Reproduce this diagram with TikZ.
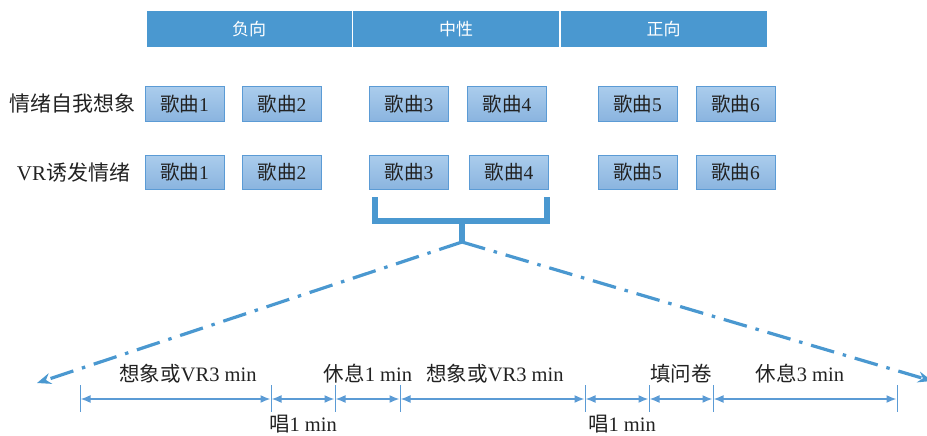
\documentclass[tikz,border=0pt]{standalone}
\usepackage{fontspec}
\setmainfont{Liberation Serif}
\newfontfamily\cjk{Noto Sans CJK SC}
\usetikzlibrary{arrows.meta}
\definecolor{hdr}{HTML}{4A98D0}
\definecolor{bxline}{HTML}{5B9BD5}
\definecolor{bxtop}{HTML}{AACCEC}
\definecolor{bxbot}{HTML}{8AB4DF}
\definecolor{txt}{HTML}{222222}
\tikzset{
  hdrbox/.style={rectangle, fill=hdr, draw=white, line width=1pt, minimum height=37pt, inner sep=0pt, text=white, font=\cjk\fontsize{17}{17}\selectfont},
  songbox/.style={rectangle, draw=bxline, line width=1pt, top color=bxtop, bottom color=bxbot, minimum width=79pt, minimum height=34pt, inner sep=0pt, text=txt, font=\fontsize{19.5}{19.5}\selectfont},
  rowlabel/.style={text=txt, font=\fontsize{21}{21}\selectfont, inner sep=0pt},
  brace/.style={draw=hdr, line width=6.5pt},
  dashdot/.style={draw=hdr, line width=3.2pt, dash pattern=on 24pt off 9pt on 3.5pt off 9pt, -{Stealth[length=14pt,width=11pt]}},
  tick/.style={draw=bxline, line width=1pt},
  span/.style={draw=bxline, line width=1.6pt, {Latex[length=10pt,width=8pt]}-{Latex[length=10pt,width=8pt]}, shorten <=0.5pt, shorten >=0.5pt},
  tlabel/.style={text=txt, font=\fontsize{20.5}{20.5}\selectfont, inner sep=0pt}
}
\begin{document}
\begin{tikzpicture}[x=1pt,y=-1pt]
\useasboundingbox (0,0) rectangle (927,436);
% header
\node[hdrbox, minimum width=206pt] (neg) at (249,29.5) {负向};
\node[hdrbox, minimum width=207pt] (neu) at (456,29.5) {中性};
\node[hdrbox, minimum width=207pt] (pos) at (663.5,29.5) {正向};
% row labels
\node[rowlabel] (lab1) at (72.5,104) {{\cjk 情绪自我想象}};
\node[rowlabel] (lab2) at (73.5,172.5) {VR{\cjk 诱发情绪}};
% row 1
\node[songbox] (a1) at (184.5,104) {{\cjk 歌曲}1};
\node[songbox] (a2) at (282,104) {{\cjk 歌曲}2};
\node[songbox] (a3) at (409,104) {{\cjk 歌曲}3};
\node[songbox] (a4) at (507,104) {{\cjk 歌曲}4};
\node[songbox] (a5) at (637.5,104) {{\cjk 歌曲}5};
\node[songbox] (a6) at (735.5,104) {{\cjk 歌曲}6};
% row 2
\node[songbox] (b1) at (184.5,172.5) {{\cjk 歌曲}1};
\node[songbox] (b2) at (282,172.5) {{\cjk 歌曲}2};
\node[songbox] (b3) at (409,172.5) {{\cjk 歌曲}3};
\node[songbox] (b4) at (509,172.5) {{\cjk 歌曲}4};
\node[songbox] (b5) at (637.5,172.5) {{\cjk 歌曲}5};
\node[songbox] (b6) at (735.5,172.5) {{\cjk 歌曲}6};
% brace
\coordinate (brL) at (375,197);
\coordinate (brR) at (547,197);
\coordinate (brM) at (462,221);
\coordinate (brS) at (462,242);
\draw[brace] (brL) -- (375,221) -- (547,221) -- (brR);
\draw[brace] (brM) -- (brS);
% dash-dot lines
\coordinate (endL) at (37,383);
\coordinate (endR) at (932,381);
\draw[dashdot] (brS) -- (endL);
\draw[dashdot] (brS) -- (endR);
% timeline ticks
\foreach \n/\x in {t0/80,t1/271,t2/335,t3/400,t4/585,t5/649,t6/713,t7/897}{
  \coordinate (\n) at (\x,399);
  \draw[tick] (\x,385) -- (\x,412);
}
\draw[span] (t0) -- (t1);
\draw[span] (t1) -- (t2);
\draw[span] (t2) -- (t3);
\draw[span] (t3) -- (t4);
\draw[span] (t4) -- (t5);
\draw[span] (t5) -- (t6);
\draw[span] (t6) -- (t7);
% labels
\node[tlabel] (l1) at (188,374) {{\cjk 想象或}VR3 min};
\node[tlabel] (l2) at (368,374) {{\cjk 休息}1 min};
\node[tlabel] (l3) at (495,374) {{\cjk 想象或}VR3 min};
\node[tlabel] (l4) at (681,374) {{\cjk 填问卷}};
\node[tlabel] (l5) at (800,374) {{\cjk 休息}3 min};
\node[tlabel] (l6) at (303,424) {{\cjk 唱}1 min};
\node[tlabel] (l7) at (622,424) {{\cjk 唱}1 min};
\end{tikzpicture}
\end{document}
